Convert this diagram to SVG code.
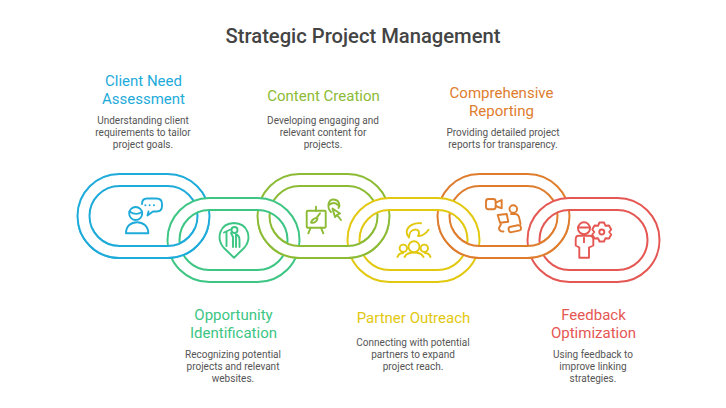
<svg xmlns="http://www.w3.org/2000/svg" xmlns:xlink="http://www.w3.org/1999/xlink" width="726" height="408" viewBox="0 0 726 408">
<style>
text{font-family:Roboto,"Liberation Sans",sans-serif;text-anchor:middle}
.title{font-size:20.2px;font-weight:500;fill:#444}
.h{font-size:15px}
.d{font-size:10px;fill:#555}
.ring{stroke-width:2;fill:#fff;fill-rule:evenodd}
.ic{fill:none;stroke-width:1.9;stroke-linecap:round;stroke-linejoin:round}
.c1{stroke:#1eabda}.t1{fill:#1eabda}
.c2{stroke:#3cc583}.t2{fill:#3cc583}
.c3{stroke:#8cbb35}.t3{fill:#8cbb35}
.c4{stroke:#e2c80f}.t4{fill:#e2c80f}
.c5{stroke:#de7d2e}.t5{fill:#de7d2e}
.c6{stroke:#e55753}.t6{fill:#e55753}
</style>
<defs>
<path id="link" d="M42 0H90A42 42 0 0 1 90 84H42A42 42 0 0 1 42 0ZM42 12A30 30 0 0 0 42 72H90A30 30 0 0 0 90 12Z"/>
<clipPath id="lower"><rect x="0" y="228" width="726" height="40"/></clipPath>
</defs>
<rect width="726" height="408" fill="#fff"/>
<text class="title" x="363" y="43">Strategic Project Management</text>

<g id="node-1"><use xlink:href="#link" href="#link" class="ring c1" x="77.5" y="174"/></g>
<g id="node-3"><use xlink:href="#link" href="#link" class="ring c3" x="257.5" y="174"/></g>
<g id="node-5"><use xlink:href="#link" href="#link" class="ring c5" x="437.5" y="174"/></g>
<g id="node-2"><use xlink:href="#link" href="#link" class="ring c2" x="167.5" y="198"/></g>
<g id="node-4"><use xlink:href="#link" href="#link" class="ring c4" x="347.5" y="198"/></g>
<g id="node-6"><use xlink:href="#link" href="#link" class="ring c6" x="527.5" y="198"/></g>
<g id="link-overlaps" clip-path="url(#lower)">
<use xlink:href="#link" href="#link" class="ring c1" x="77.5" y="174"/>
<use xlink:href="#link" href="#link" class="ring c3" x="257.5" y="174"/>
<use xlink:href="#link" href="#link" class="ring c5" x="437.5" y="174"/>
</g>

<g id="label-1"><text class="h t1" x="143.5" y="85.5">Client Need</text><text class="h t1" x="143.5" y="104">Assessment</text>
<text class="d" x="143" y="124">Understanding client</text><text class="d" x="143" y="136">requirements to tailor</text><text class="d" x="143" y="148">project goals.</text></g>
<g id="icon-1" class="ic c1">
<circle cx="135.7" cy="213.5" r="6.5"/><path d="M129.500 211.500Q136 216 142 212"/>
<path d="M126 233.300H148.300C148.300 226 143 222.300 137 222.300S126 226 126 233.300Z"/>
<path d="M142 204C142 200 144 198.500 147 198.500H156.500C160 198.500 162 200.500 162 204V206C162 209.500 160 211.500 156.500 211.500H153L147.500 215.500L148.500 211.500"/>
<path d="M145.300 205.300h.1M149.600 205.300h.1M153.900 205.300h.1"/>
</g>

<g id="label-2"><text class="h t2" x="233.500" y="320">Opportunity</text><text class="h t2" x="233.500" y="338">Identification</text>
<text class="d" x="233" y="358">Recognizing potential</text><text class="d" x="233" y="370">projects and relevant</text><text class="d" x="233" y="382">websites.</text></g>
<g id="icon-2" class="ic c2">
<path d="M234 257.700L223.500 247.500C216 238 219.500 223.500 234 223C248.500 223.500 252 238 244.500 247.500Z"/>
<circle cx="234.500" cy="230" r="3"/>
<path d="M224 232.500L230.500 229.500M226.500 232V246M231 233L233 237V247M236 247V234.500C238 235 239.500 237 239.500 240V247"/>
</g>

<g id="label-3"><text class="h t3" x="323.500" y="101">Content Creation</text>
<text class="d" x="323" y="124">Developing engaging and</text><text class="d" x="323" y="136">relevant content for</text><text class="d" x="323" y="148">projects.</text></g>
<g id="icon-3" class="ic c3">
<rect x="306.700" y="210.700" width="19" height="17" rx="1"/>
<path d="M316 206.700V210.700M310.700 227.700L308.300 233.300M321 227.700L323.300 233.300M320 213.300L316.500 217.800"/>
<path d="M311 222.500C312 219 315.500 217.500 317.500 218.500C317 221.500 314 223.500 311 222.500Z"/>
<path d="M331 212C327 208 327.500 199.500 333.500 199.500C339 199.500 340.500 205 338.500 208M329 205Q333.500 201 338 205"/>
<path d="M332.500 208.500L340 213.500L337 215L341 220M332.500 208.500L335 217L337 215"/>
</g>

<g id="label-4"><text class="h t4" x="413.500" y="323">Partner Outreach</text>
<text class="d" x="413" y="346">Connecting with potential</text><text class="d" x="413" y="358">partners to expand</text><text class="d" x="413" y="370">project reach.</text></g>
<g id="icon-4" class="ic c4">
<circle cx="414" cy="246.700" r="5.500"/><circle cx="403.300" cy="248.300" r="3.700"/><circle cx="424.300" cy="248.300" r="3.700"/>
<path d="M404.500 257C406 254 409 252.500 414 252.500S422 254 423.500 257M397.500 257C398.500 254 400.500 253 403 253M430.500 257C429.500 254 427.500 253 425 253"/>
<path d="M421 223.300C414 222.500 407 226 406.700 232C406.600 234.500 407.500 236 409 237.500C409 233 411.500 229.500 415.500 229.500C419 229.500 420 232.500 418 236C422 236.500 426.500 233 428.500 229.800"/>
</g>

<g id="label-5"><text class="h t5" x="501.500" y="98">Comprehensive</text><text class="h t5" x="501.500" y="116">Reporting</text>
<text class="d" x="503" y="136">Providing detailed project</text><text class="d" x="503" y="148">reports for transparency.</text></g>
<g id="icon-5" class="ic c5">
<rect x="486" y="199" width="9.700" height="10.300" rx="2.500"/>
<path d="M495.700 202.700L501.700 200V208.300L495.700 206"/>
<circle cx="513.300" cy="209" r="3.800"/>
<path d="M497.700 215L506.700 214L508.300 221.700L500 222.700Z"/>
<path d="M511 214H515C518 214 519 216 519.500 219L520.500 224"/>
<path d="M501 224L499 228C499 230.500 501 231.500 503.500 231.500"/>
<rect x="508.500" y="226" width="12.500" height="5.500" rx="2.500" transform="rotate(-11 514.500 228.700)"/>
</g>

<g id="label-6"><text class="h t6" x="593.500" y="320">Feedback</text><text class="h t6" x="593.500" y="338">Optimization</text>
<text class="d" x="593" y="358">Using feedback to</text><text class="d" x="593" y="370">improve linking</text><text class="d" x="593" y="382">strategies.</text></g>
<g id="icon-6" class="ic c6">
<circle cx="584" cy="228.300" r="6"/><path d="M578 227.500H590"/>
<path d="M578.500 235.700H589.500C592 235.700 593.300 237 593.300 239.500V245.500L589 247.500V257.700H579.300V247.500L575.700 245.500V239.500C575.700 237 576.500 235.700 578.500 235.700Z"/>
<path d="M584 237.700V242.300"/>
<path d="M599.500 222.500H604L605.500 225.800L609 225.500L611.200 229.500L609.200 232L611.200 234.500L609 238.500L605.500 238.200L604 241.500H599.500L598 238.200L594.500 238.500L592.300 234.500L594.300 232L592.300 229.500L594.500 225.500L598 225.800Z"/>
<circle cx="601.800" cy="232" r="2.500"/>
</g>
</svg>
